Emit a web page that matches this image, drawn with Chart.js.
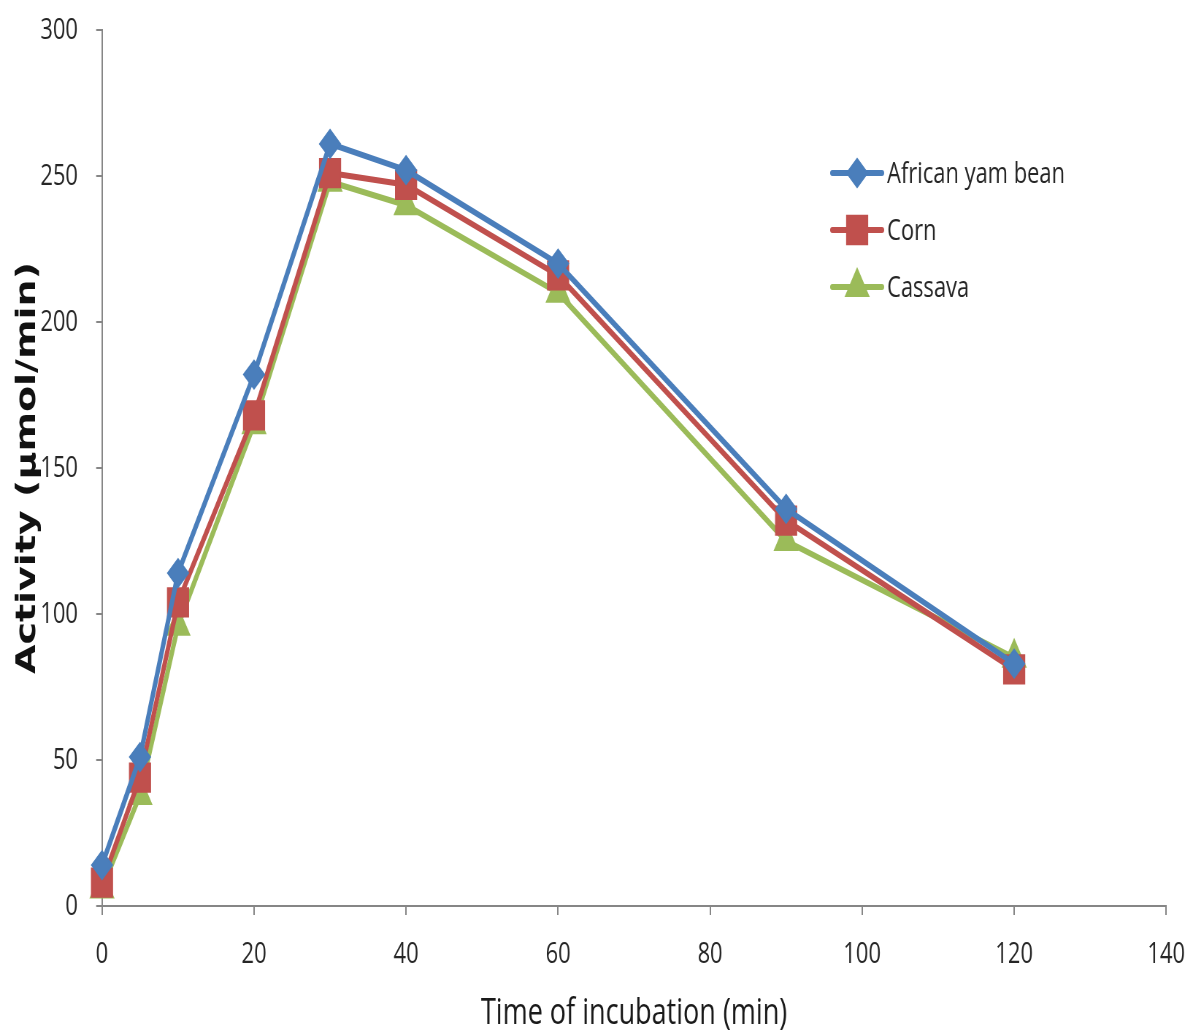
<!DOCTYPE html>
<html>
<head>
<meta charset="utf-8">
<script src="https://cdn.jsdelivr.net/npm/chart.js@4"></script>
<style>
  html, body { margin: 0; padding: 0; background: #fff; overflow: hidden; }
  /* narrow-face look: chart drawn wide, then condensed horizontally */
  #wrap { width: 1630px; height: 1032px; transform: scaleX(0.7301); transform-origin: 0 0; }
  canvas { display: block; }
</style>
</head>
<body>
<div id="wrap"><canvas id="c" width="1630" height="1032"></canvas></div>
<script>
// Incubation times (min)
const times = [0, 5, 10, 20, 30, 40, 60, 90, 120];

// Enzyme activity (µmol/min) per substrate
const africanYamBean = [14, 51, 114, 182, 261, 252, 220, 136, 83];
const corn           = [8, 44, 104, 168, 251, 247, 216, 132, 81];
const cassava        = [6, 38, 96, 165, 248, 240, 210, 125, 85];

const seriesNames = ['African yam bean', 'Corn', 'Cassava'];

// Axis ranges
const xTicks = { min: 0, max: 140, step: 20 };
const yTicks = { min: 0, max: 300, step: 50 };

const AXIS = '#868686';
const TEXT = '#262626';
const FONT = '"Open Sans", "Liberation Sans", sans-serif';

const toPoints = vals => times.map((t, i) => ({ x: t, y: vals[i] }));

function series(label, vals, color, style, radius) {
  return {
    label,
    data: toPoints(vals),
    borderColor: color,
    backgroundColor: color,
    borderWidth: 6,
    pointStyle: style,
    pointRadius: radius,
    pointHoverRadius: radius,
    pointBorderWidth: 2,
    pointBorderColor: color,
    pointBackgroundColor: color,
    tension: 0,
    fill: false,
    clip: false
  };
}

// Legend drawn inside the plot, upper right
const insideLegend = {
  id: 'insideLegend',
  afterDraw(chart) {
    const ctx = chart.ctx;
    const x0 = 1140, x1 = 1208, xm = 1174, tx = 1215;
    const ys = [173, 230, 287];
    chart.data.datasets.forEach((ds, i) => {
      const y = ys[i];
      ctx.save();
      ctx.strokeStyle = ds.borderColor;
      ctx.lineWidth = 6;
      ctx.lineCap = 'round';
      ctx.beginPath();
      ctx.moveTo(x0, y);
      ctx.lineTo(x1, y);
      ctx.stroke();
      ctx.fillStyle = ds.pointBackgroundColor;
      ctx.strokeStyle = ds.pointBorderColor;
      ctx.lineWidth = ds.pointBorderWidth;
      Chart.helpers.drawPoint(ctx, { pointStyle: ds.pointStyle, radius: ds.pointRadius, rotation: 0, borderWidth: ds.pointBorderWidth }, xm, y);
      ctx.fillStyle = TEXT;
      ctx.font = '30px ' + FONT;
      ctx.textBaseline = 'middle';
      ctx.textAlign = 'left';
      ctx.fillText(ds.label, tx, y + 1);
      ctx.restore();
    });
  }
};

new Chart(document.getElementById('c'), {
  type: 'line',
  data: {
    datasets: [
      series(seriesNames[0], africanYamBean, '#4A7EBB', 'rectRot', 14),
      series(seriesNames[1], corn, '#C0504D', 'rect', 20),
      series(seriesNames[2], cassava, '#9BBB59', 'triangle', 18)
    ]
  },
  options: {
    responsive: false,
    animation: false,
    devicePixelRatio: 1,
    layout: { padding: { top: 30, right: 32.7, left: 0, bottom: 0 } },
    plugins: { legend: { display: false }, tooltip: { enabled: false } },
    scales: {
      x: {
        type: 'linear',
        min: xTicks.min, max: xTicks.max,
        afterFit(scale) {
          scale.height = 126;
          scale.paddingLeft = 0; scale.paddingRight = 0;
        },
        ticks: { stepSize: xTicks.step, color: TEXT, font: { family: FONT, size: 30 }, padding: 21, maxRotation: 0 },
        grid: { display: true, drawOnChartArea: false, drawTicks: true, tickLength: 9, color: AXIS, lineWidth: 2 },
        border: { display: true, color: AXIS, width: 2 },
        title: { display: true, text: 'Time of incubation (min)', color: '#1a1a1a', font: { family: FONT, size: 37, lineHeight: 1 }, padding: { top: 0, bottom: 0 } }
      },
      y: {
        type: 'linear',
        min: yTicks.min, max: yTicks.max,
        afterFit(scale) {
          scale.width = 139.7;
          scale.paddingTop = 0; scale.paddingBottom = 0;
        },
        ticks: { stepSize: yTicks.step, color: TEXT, font: { family: FONT, size: 30 }, padding: 25 },
        grid: { display: true, drawOnChartArea: false, drawTicks: true, tickLength: 8, color: AXIS, lineWidth: 2 },
        border: { display: true, color: AXIS, width: 2 },
        title: { display: true, text: 'Activity (μmol/min)', color: '#111', font: { family: '"DejaVu Sans", sans-serif', size: 38, weight: 'bold', lineHeight: 1 }, padding: { top: 19, bottom: 0 } }
      }
    }
  },
  plugins: [insideLegend]
});
</script>
</body>
</html>
